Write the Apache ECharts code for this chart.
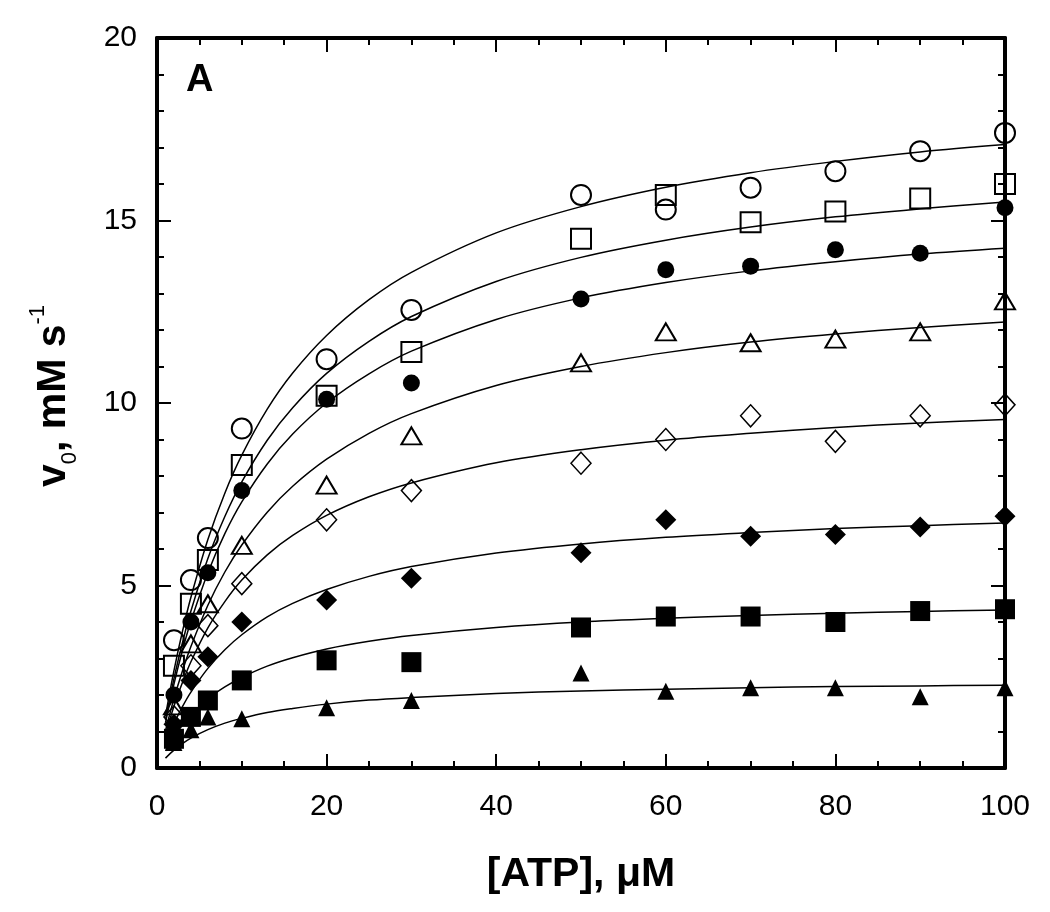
<!DOCTYPE html>
<html>
<head>
<meta charset="utf-8">
<script src="https://cdn.jsdelivr.net/npm/echarts@6/dist/echarts.min.js"></script>
<style>
html,body{margin:0;padding:0;background:#fff;}
#chart{width:1050px;height:912px;}
</style>
</head>
<body>
<div id="chart"></div>
<script>
// ---- data ----
const atp = [2, 4, 6, 10, 20, 30, 50, 60, 70, 80, 90, 100];
const openCircle     = [3.5, 5.15, 6.3, 9.3, 11.2, 12.55, 15.7, 15.3, 15.9, 16.35, 16.9, 17.4];
const openSquare     = [2.8, 4.5, 5.7, 8.3, 10.2, 11.4, 14.5, 15.7, 14.95, 15.25, 15.6, 16.0];
const filledCircle   = [2.0, 4.0, 5.35, 7.6, 10.1, 10.55, 12.85, 13.65, 13.75, 14.2, 14.1, 15.35];
const openTriangle   = [1.7, 3.4, 4.5, 6.1, 7.75, 9.1, 11.1, 11.95, 11.65, 11.75, 11.95, 12.8];
const openDiamond    = [1.4, 2.8, 3.9, 5.05, 6.8, 7.6, 8.35, 9.0, 9.65, 8.95, 9.65, 9.95];
const filledDiamond  = [1.2, 2.4, 3.05, 4.0, 4.6, 5.2, 5.9, 6.8, 6.35, 6.4, 6.6, 6.9];
const filledSquare   = [0.8, 1.4, 1.85, 2.4, 2.95, 2.9, 3.85, 4.15, 4.15, 4.0, 4.3, 4.35];
const filledTriangle = [0.7, 1.05, 1.4, 1.35, 1.65, 1.85, 2.6, 2.1, 2.2, 2.2, 1.95, 2.2];

// fitted curves
const curveX = [1, 2, 3, 4, 6, 8, 10, 13, 16, 20, 25, 30, 40, 50, 60, 70, 80, 90, 100];
const fitOpenCircle     = [1.43, 2.67, 3.74, 4.68, 6.26, 7.53, 8.57, 9.83, 10.82, 11.85, 12.83, 13.58, 14.66, 15.38, 15.91, 16.31, 16.62, 16.88, 17.08];
const fitOpenSquare     = [1.32, 2.45, 3.43, 4.30, 5.74, 6.89, 7.84, 8.98, 9.87, 10.81, 11.69, 12.37, 13.33, 13.99, 14.46, 14.82, 15.10, 15.32, 15.51];
const fitFilledCircle   = [1.24, 2.30, 3.22, 4.02, 5.35, 6.42, 7.29, 8.33, 9.15, 10.0, 10.80, 11.42, 12.29, 12.88, 13.30, 13.62, 13.87, 14.08, 14.24];
const fitOpenTriangle   = [1.02, 1.90, 2.66, 3.33, 4.46, 5.37, 6.11, 7.01, 7.72, 8.46, 9.17, 9.71, 10.48, 11.0, 11.38, 11.67, 11.89, 12.07, 12.22];
const fitOpenDiamond    = [0.92, 1.69, 2.34, 2.91, 3.84, 4.56, 5.15, 5.84, 6.37, 6.92, 7.43, 7.81, 8.36, 8.72, 8.98, 9.17, 9.33, 9.45, 9.55];
const fitFilledDiamond  = [0.66, 1.21, 1.68, 2.08, 2.73, 3.24, 3.65, 4.14, 4.51, 4.89, 5.25, 5.52, 5.89, 6.14, 6.32, 6.45, 6.56, 6.64, 6.71];
const fitFilledSquare   = [0.47, 0.86, 1.18, 1.45, 1.89, 2.22, 2.48, 2.79, 3.02, 3.26, 3.47, 3.63, 3.85, 4.0, 4.10, 4.18, 4.24, 4.29, 4.33];
const fitFilledTriangle = [0.27, 0.49, 0.67, 0.82, 1.05, 1.23, 1.36, 1.52, 1.63, 1.75, 1.86, 1.93, 2.04, 2.11, 2.16, 2.20, 2.23, 2.25, 2.27];

const xTicks = [0, 20, 40, 60, 80, 100];
const yTicks = [0, 5, 10, 15, 20];

// ---- chart ----
const FONT = '"Liberation Sans", Arial, sans-serif';
const pairs = (xs, ys) => xs.map((x, i) => [x, ys[i]]);

function scatter(name, vals, symbol, size, filled, bw) {
  return {
    type: 'scatter', name: name, data: pairs(atp, vals),
    symbol: symbol, symbolSize: size, z: 3,
    itemStyle: filled
      ? { color: '#000', borderColor: '#000', borderWidth: 0, opacity: 1 }
      : { color: 'rgba(255,255,255,0)', borderColor: '#000', borderWidth: bw || 2, opacity: 1 }
  };
}
function curve(vals) {
  return {
    type: 'line', data: pairs(curveX, vals), smooth: 0.35, showSymbol: false,
    symbol: 'none', silent: true, z: 2,
    lineStyle: { color: '#000', width: 1.5 }
  };
}

const axisCommon = {
  type: 'value',
  axisLine: { show: true, onZero: false, lineStyle: { color: '#000', width: 4 } },
  axisTick: { show: true, inside: true, length: 14, lineStyle: { color: '#000', width: 2 } },
  minorTick: { show: true, length: 7, lineStyle: { color: '#000', width: 2 } },
  splitLine: { show: false },
  minorSplitLine: { show: false }
};

const option = {
  animation: false,
  backgroundColor: '#fff',
  grid: { left: 157, right: 45, top: 38, bottom: 144, containLabel: false },
  xAxis: [
    Object.assign({}, axisCommon, {
      position: 'bottom', min: 0, max: 100, interval: 20,
      minorTick: Object.assign({}, axisCommon.minorTick, { splitNumber: 4 }),
      axisLabel: { show: true, color: '#000', fontSize: 30, fontFamily: FONT, margin: 24,
        formatter: v => xTicks.includes(v) ? String(v) : '' },
      name: '[ATP], μM', nameLocation: 'middle', nameGap: 86,
      nameTextStyle: { color: '#000', fontSize: 41, fontWeight: 'bold', fontFamily: FONT }
    }),
    Object.assign({}, axisCommon, {
      position: 'top', min: 0, max: 100, interval: 20,
      minorTick: Object.assign({}, axisCommon.minorTick, { splitNumber: 4 }),
      axisLabel: { show: false }
    })
  ],
  yAxis: [
    Object.assign({}, axisCommon, {
      position: 'left', min: 0, max: 20, interval: 5,
      minorTick: Object.assign({}, axisCommon.minorTick, { splitNumber: 5 }),
      axisLabel: { show: true, color: '#000', fontSize: 30, fontFamily: FONT, margin: 20,
        formatter: v => yTicks.includes(v) ? String(v) : '' }
    }),
    Object.assign({}, axisCommon, {
      position: 'right', min: 0, max: 20, interval: 5,
      minorTick: Object.assign({}, axisCommon.minorTick, { splitNumber: 5 }),
      axisLabel: { show: false }
    })
  ],
  graphic: [
    {
      type: 'text', left: 186, top: 62, z: 10,
      style: { text: 'A', font: 'bold 38px ' + FONT, fill: '#000' }
    },
    {
      type: 'text', x: 54, y: 396, rotation: Math.PI / 2, z: 10,
      style: {
        text: '{b|v}{s|0}{b|, mM s}{p|-1}',
        align: 'center', verticalAlign: 'middle', fill: '#000',
        rich: {
          b: { fontSize: 41, fontWeight: 'bold', fontFamily: FONT, lineHeight: 54, verticalAlign: 'middle', fill: '#000' },
          s: { fontSize: 22, fontFamily: FONT, lineHeight: 22, verticalAlign: 'bottom', fill: '#000' },
          p: { fontSize: 22, fontFamily: FONT, lineHeight: 22, verticalAlign: 'top', fill: '#000' }
        }
      }
    }
  ],
  series: [
    curve(fitOpenCircle), curve(fitOpenSquare), curve(fitFilledCircle), curve(fitOpenTriangle),
    curve(fitOpenDiamond), curve(fitFilledDiamond), curve(fitFilledSquare), curve(fitFilledTriangle),
    scatter('open circle', openCircle, 'circle', 20, false, 2),
    scatter('open square', openSquare, 'rect', 20, false, 2),
    scatter('filled circle', filledCircle, 'circle', 17, true),
    scatter('open triangle', openTriangle, 'triangle', [20, 17], false, 2),
    scatter('open diamond', openDiamond, 'diamond', [20, 22], false, 1.5),
    scatter('filled diamond', filledDiamond, 'diamond', 21, true),
    scatter('filled square', filledSquare, 'rect', 20, true),
    scatter('filled triangle', filledTriangle, 'triangle', [17, 17], true)
  ]
};

echarts.init(document.getElementById('chart'), null, { renderer: 'canvas' }).setOption(option);
</script>
</body>
</html>
